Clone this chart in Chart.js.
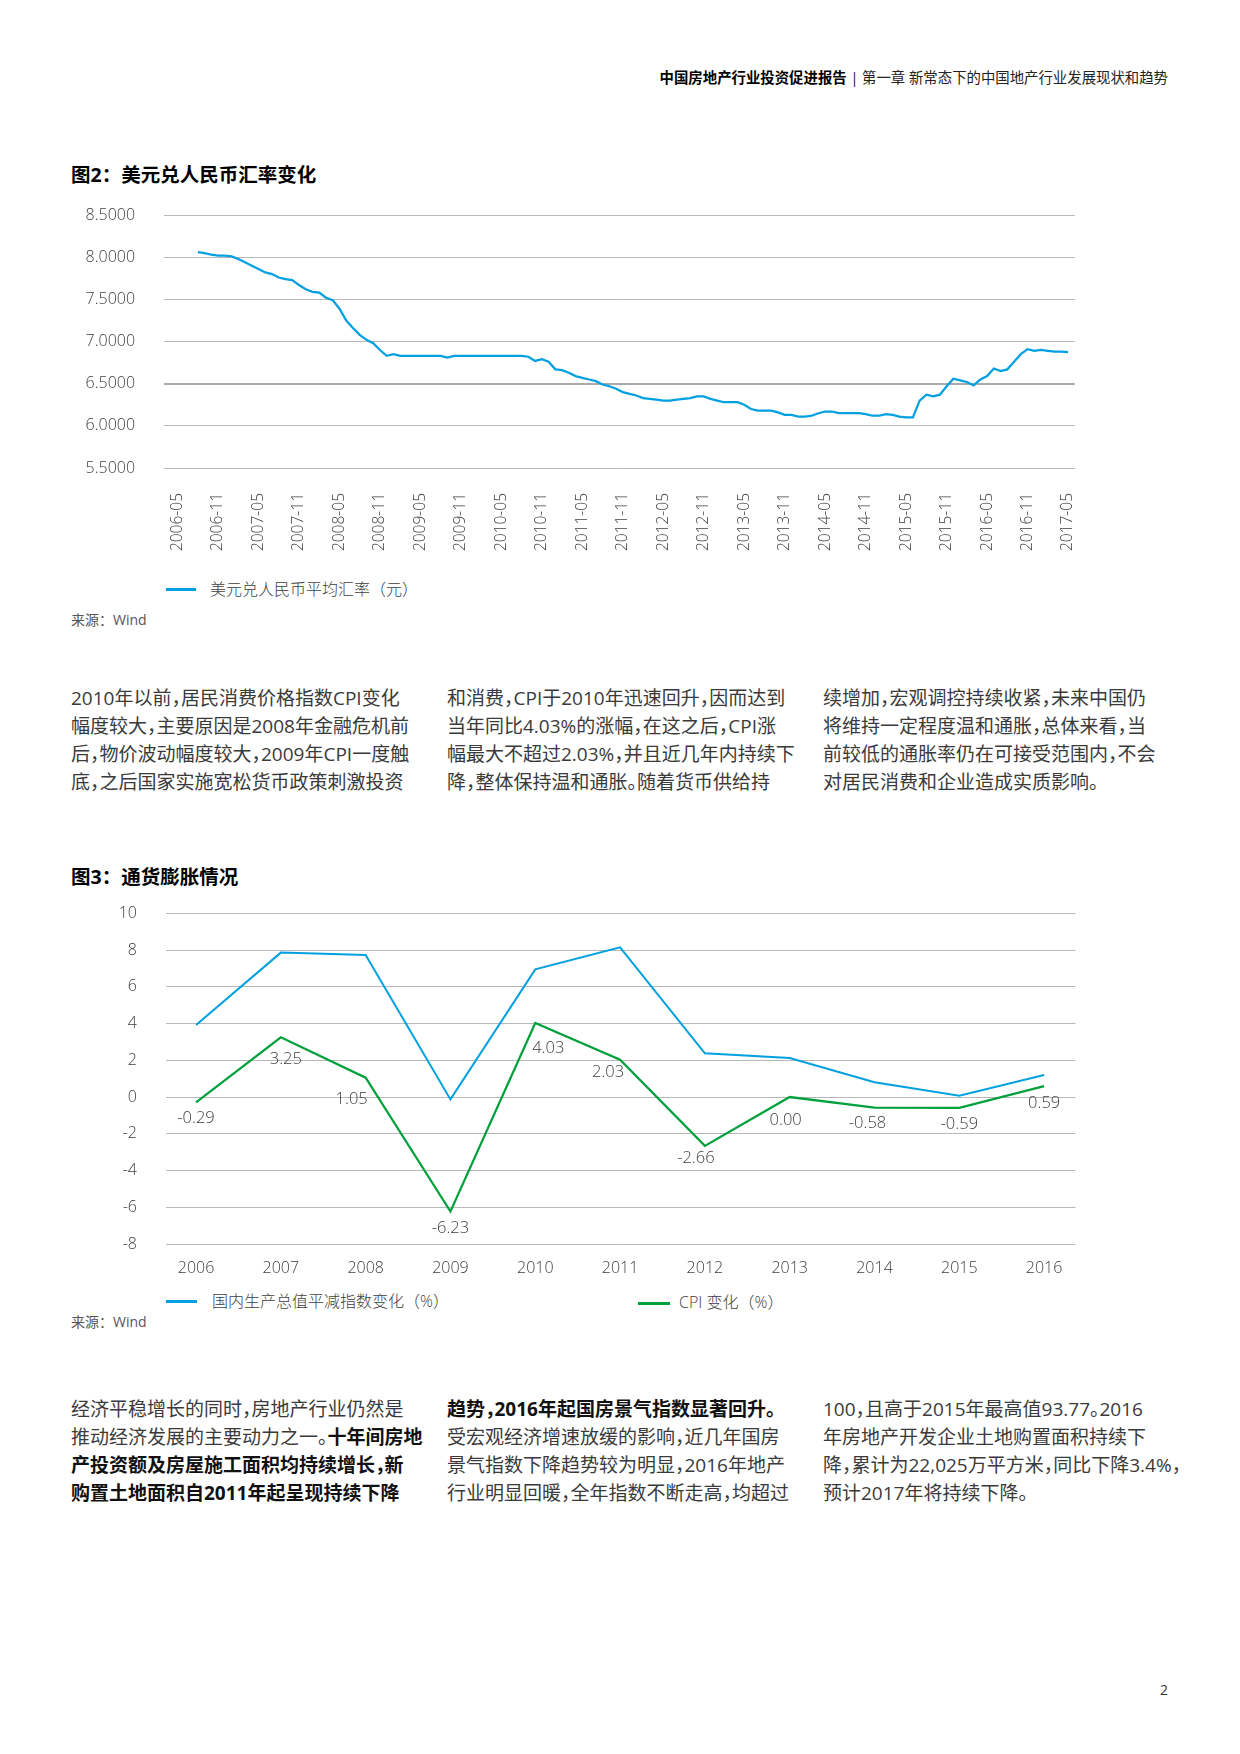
<!DOCTYPE html>
<html lang="zh-CN">
<head>
<meta charset="utf-8">
<title>中国房地产行业投资促进报告</title>
<script src="https://cdn.jsdelivr.net/npm/chart.js@4.4.1/dist/chart.umd.min.js"></script>
<style>
  body { margin: 0; background: #fff; }
  #page { position: relative; width: 1240px; height: 1754px; overflow: hidden;
          font-family: "Open Sans", "Noto Sans CJK SC", sans-serif; color: #333; }
  .abs { position: absolute; white-space: nowrap; }
  .header { top: 68px; right: 72px; font-size: 14.4px; line-height: 20px; color: #222; }
  .header b { color: #000; }
  .title { left: 71px; font-size: 19.5px; line-height: 24px; font-weight: 700; color: #000; }
  .legend { font-size: 16px; line-height: 20px; color: #404040; font-weight: 300; }
  .swatch { position: absolute; height: 3px; }
  .source { left: 71px; font-size: 14px; line-height: 20px; color: #555; }
  .col { font-size: 19px; line-height: 28px; color: #3a3a3a; font-feature-settings: "halt"; }
  .col b { color: #111; }
  .box { position: absolute; }
</style>
</head>
<body>
<div id="page">
  <div class="abs header"><b>中国房地产行业投资促进报告</b> | 第一章 新常态下的中国地产行业发展现状和趋势</div>

  <div class="abs title" style="top:163px">图2：美元兑人民币汇率变化</div>
  <div class="box" style="left:60px; top:205px; width:1025px; height:360px;"><canvas id="rateChart" width="1025" height="360"></canvas></div>
  <div class="swatch" style="left:166px; top:588px; width:30px; background:#00a0e1"></div>
  <div class="abs legend" style="left:210px; top:579px">美元兑人民币平均汇率（元）</div>
  <div class="abs source" style="top:610px">来源：Wind</div>

  <div class="abs col" style="left:71px; top:684px">
    <div>2010年以前，居民消费价格指数CPI变化</div>
    <div>幅度较大，主要原因是2008年金融危机前</div>
    <div>后，物价波动幅度较大，2009年CPI一度触</div>
    <div>底，之后国家实施宽松货币政策刺激投资</div>
  </div>
  <div class="abs col" style="left:447px; top:684px">
    <div>和消费，CPI于2010年迅速回升，因而达到</div>
    <div>当年同比4.03%的涨幅，在这之后，CPI涨</div>
    <div>幅最大不超过2.03%，并且近几年内持续下</div>
    <div>降，整体保持温和通胀。随着货币供给持</div>
  </div>
  <div class="abs col" style="left:823px; top:684px">
    <div>续增加，宏观调控持续收紧，未来中国仍</div>
    <div>将维持一定程度温和通胀，总体来看，当</div>
    <div>前较低的通胀率仍在可接受范围内，不会</div>
    <div>对居民消费和企业造成实质影响。</div>
  </div>

  <div class="abs title" style="top:865px">图3：通货膨胀情况</div>
  <div class="box" style="left:60px; top:903px; width:1025px; height:380px;"><canvas id="inflChart" width="1025" height="380"></canvas></div>
  <div class="swatch" style="left:166px; top:1300px; width:31px; background:#00a0e1"></div>
  <div class="abs legend" style="left:212px; top:1291px">国内生产总值平减指数变化（%）</div>
  <div class="swatch" style="left:638px; top:1302px; width:32px; background:#00a03c"></div>
  <div class="abs legend" style="left:679px; top:1292px">CPI 变化（%）</div>
  <div class="abs source" style="top:1312px">来源：Wind</div>

  <div class="abs col" style="left:71px; top:1395px">
    <div>经济平稳增长的同时，房地产行业仍然是</div>
    <div>推动经济发展的主要动力之一。<b>十年间房地</b></div>
    <div><b>产投资额及房屋施工面积均持续增长，新</b></div>
    <div><b>购置土地面积自2011年起呈现持续下降</b></div>
  </div>
  <div class="abs col" style="left:447px; top:1395px">
    <div><b>趋势，2016年起国房景气指数显著回升。</b></div>
    <div>受宏观经济增速放缓的影响，近几年国房</div>
    <div>景气指数下降趋势较为明显，2016年地产</div>
    <div>行业明显回暖，全年指数不断走高，均超过</div>
  </div>
  <div class="abs col" style="left:823px; top:1395px">
    <div>100，且高于2015年最高值93.77。2016</div>
    <div>年房地产开发企业土地购置面积持续下</div>
    <div>降，累计为22,025万平方米，同比下降3.4%，</div>
    <div>预计2017年将持续下降。</div>
  </div>

  <div class="abs" style="left:1160px; top:1680px; font-size:14px; line-height:20px; color:#333">2</div>
</div>

<script>
// 图2 monthly average USD/CNY, first value is 2006-08
const rateFirstMonth = '2006-08';
const rateValues = [
  8.06, 8.05, 8.03, 8.02, 8.02, 8.01, 7.98, 7.94, 7.90, 7.86,
  7.82, 7.80, 7.76, 7.74, 7.73, 7.67, 7.62, 7.59, 7.58, 7.52,
  7.49, 7.39, 7.25, 7.16, 7.08, 7.02, 6.98, 6.90, 6.83, 6.85,
  6.83, 6.83, 6.83, 6.83, 6.83, 6.83, 6.83, 6.81, 6.83, 6.83,
  6.83, 6.83, 6.83, 6.83, 6.83, 6.83, 6.83, 6.83, 6.83, 6.82,
  6.77, 6.79, 6.76, 6.67, 6.66, 6.63, 6.59, 6.57, 6.55, 6.53,
  6.49, 6.47, 6.44, 6.40, 6.38, 6.36, 6.33, 6.32, 6.31, 6.30,
  6.30, 6.31, 6.32, 6.33, 6.35, 6.35, 6.32, 6.30, 6.28, 6.28,
  6.28, 6.25, 6.20, 6.18, 6.18, 6.18, 6.16, 6.13, 6.13, 6.11,
  6.11, 6.12, 6.15, 6.17, 6.17, 6.15, 6.15, 6.15, 6.15, 6.14,
  6.12, 6.12, 6.14, 6.13, 6.11, 6.10, 6.10, 6.30, 6.37, 6.35,
  6.37, 6.47, 6.56, 6.54, 6.52, 6.48, 6.55, 6.59, 6.68, 6.65,
  6.67, 6.76, 6.85, 6.91, 6.89, 6.90, 6.89, 6.88, 6.88, 6.875
];
// category axis runs a bit past the data on both sides
const axisFirstMonth = '2006-03';
const axisLastMonth = '2017-06';
const rateLabelMonths = ['05', '11'];

// 图3
const years = [2006, 2007, 2008, 2009, 2010, 2011, 2012, 2013, 2014, 2015, 2016];
const deflator = [3.92, 7.86, 7.73, -0.13, 6.95, 8.15, 2.38, 2.12, 0.80, 0.07, 1.20];
const cpi = [-0.29, 3.25, 1.05, -6.23, 4.03, 2.03, -2.66, 0.00, -0.58, -0.59, 0.59];
const cpiLabelDx = [0, 5, -14, 0, 13, -12, -9, -4, -7, 0, 0];
const cpiLabelDy = [16, 22, 22, 17, 25, 13, 12, 23, 16, 16, 17];

const BLUE = '#00a0e1';
const GREEN = '#00a03c';
const GRID = '#b8b8b8';
const NUM_FONT = '"Open Sans", "Noto Sans CJK SC", sans-serif';

function monthIndex(s) {
  const [y, m] = s.split('-').map(Number);
  return y * 12 + (m - 1);
}
function monthName(i) {
  const y = Math.floor(i / 12), m = i % 12 + 1;
  return y + '-' + (m < 10 ? '0' + m : m);
}

const axisMonths = [];
for (let i = monthIndex(axisFirstMonth); i <= monthIndex(axisLastMonth); i++) {
  axisMonths.push(monthName(i));
}
const rateSeries = axisMonths.map(m => {
  const k = monthIndex(m) - monthIndex(rateFirstMonth);
  return k >= 0 && k < rateValues.length ? rateValues[k] : null;
});

// keep chart area where layout.padding puts it, tick padding only moves labels
function fixY(width) {
  return s => { s.width = width; s.paddingTop = 0; s.paddingBottom = 0; };
}
function fixX(height) {
  return s => { s.height = height; s.paddingLeft = 0; s.paddingRight = 0; };
}

Chart.defaults.font.family = NUM_FONT;
Chart.defaults.font.size = 16;
Chart.defaults.font.weight = 300;
Chart.defaults.color = '#404040';

new Chart(document.getElementById('rateChart'), {
  type: 'line',
  data: {
    labels: axisMonths,
    datasets: [{
      label: '美元兑人民币平均汇率（元）',
      data: rateSeries,
      borderColor: BLUE,
      borderWidth: 2.25,
      pointRadius: 0,
      tension: 0
    }]
  },
  options: {
    responsive: false,
    animation: false,
    devicePixelRatio: 1,
    layout: { padding: { top: 10.1, right: 10.2, left: 0, bottom: 0 } },
    plugins: { legend: { display: false }, tooltip: { enabled: false } },
    scales: {
      x: {
        type: 'category',
        grid: { display: false, drawTicks: false },
        border: { display: false },
        ticks: {
          autoSkip: false,
          minRotation: 90,
          maxRotation: 90,
          padding: 25,
          font: { size: 15.5 },
          callback: function (v) {
            const l = this.getLabelForValue(v);
            return rateLabelMonths.includes(l.slice(5)) ? l : '';
          }
        },
        afterFit: fixX(97)
      },
      y: {
        min: 5.5,
        max: 8.5,
        border: { display: false },
        grid: {
          color: ctx => ctx.tick && ctx.tick.value === 6.5 ? '#aaaaaa' : GRID,
          lineWidth: ctx => ctx.tick && ctx.tick.value === 6.5 ? 2 : 1,
          drawTicks: false
        },
        ticks: { stepSize: 0.5, padding: 29, callback: v => v.toFixed(4) },
        afterFit: fixY(104.1)
      }
    }
  }
});

const cpiLabels = {
  id: 'cpiLabels',
  afterDatasetsDraw(chart) {
    const meta = chart.getDatasetMeta(1);
    const ctx = chart.ctx;
    ctx.save();
    ctx.font = '300 16.5px ' + NUM_FONT;
    ctx.fillStyle = '#404040';
    ctx.textAlign = 'center';
    ctx.textBaseline = 'middle';
    meta.data.forEach((pt, i) => {
      ctx.fillText(cpi[i].toFixed(2), pt.x + cpiLabelDx[i], pt.y + cpiLabelDy[i]);
    });
    ctx.restore();
  }
};

new Chart(document.getElementById('inflChart'), {
  type: 'line',
  data: {
    datasets: [{
      label: '国内生产总值平减指数变化（%）',
      data: years.map((y, i) => ({ x: y, y: deflator[i] })),
      borderColor: BLUE,
      borderWidth: 2,
      pointRadius: 0,
      tension: 0
    }, {
      label: 'CPI 变化（%）',
      data: years.map((y, i) => ({ x: y, y: cpi[i] })),
      borderColor: GREEN,
      borderWidth: 2.25,
      pointRadius: 0,
      tension: 0
    }]
  },
  options: {
    responsive: false,
    animation: false,
    devicePixelRatio: 1,
    layout: { padding: { top: 10.3, right: 9.5, left: 0, bottom: 0 } },
    plugins: { legend: { display: false }, tooltip: { enabled: false } },
    scales: {
      x: {
        type: 'linear',
        min: 2005.64,
        max: 2016.37,
        grid: { display: false, drawTicks: false },
        border: { display: false },
        afterBuildTicks: s => { s.ticks = years.map(v => ({ value: v })); },
        ticks: { padding: 15, callback: v => String(v) },
        afterFit: fixX(39)
      },
      y: {
        min: -8,
        max: 10,
        border: { display: false },
        grid: { color: GRID, lineWidth: 1, drawTicks: false },
        ticks: { stepSize: 2, padding: 28.5 },
        afterFit: fixY(105.5)
      }
    }
  },
  plugins: [cpiLabels]
});
</script>
</body>
</html>
